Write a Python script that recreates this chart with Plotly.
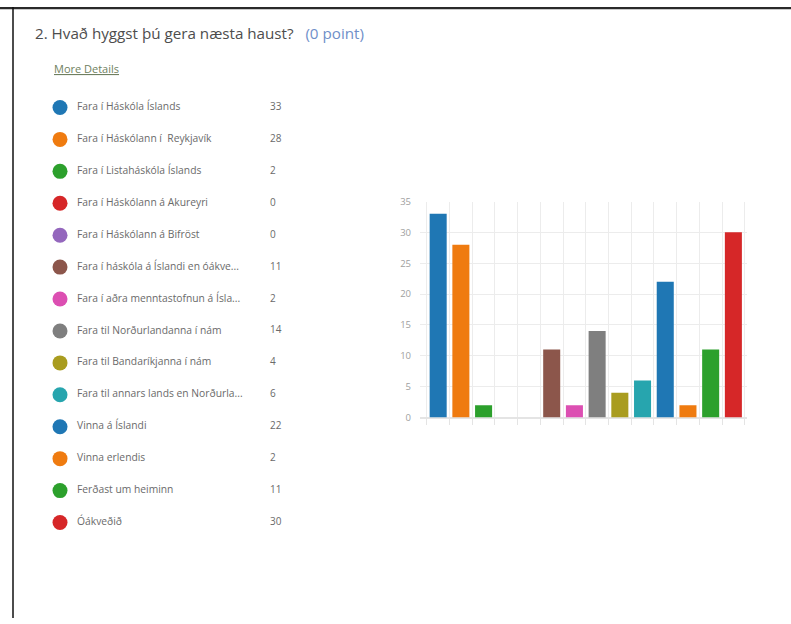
import plotly.graph_objects as go

W, H = 791, 624

categories = [
    "Fara í Háskóla Íslands",
    "Fara í Háskólann í  Reykjavík",
    "Fara í Listaháskóla Íslands",
    "Fara í Háskólann á Akureyri",
    "Fara í Háskólann á Bifröst",
    "Fara í háskóla á Íslandi en óákve...",
    "Fara í aðra menntastofnun á Ísla...",
    "Fara til Norðurlandanna í nám",
    "Fara til Bandaríkjanna í nám",
    "Fara til annars lands en Norðurla...",
    "Vinna á Íslandi",
    "Vinna erlendis",
    "Ferðast um heiminn",
    "Óákveðið",
]
counts = [33, 28, 2, 0, 0, 11, 2, 14, 4, 6, 22, 2, 11, 30]
y_ticks = [0, 5, 10, 15, 20, 25, 30, 35]

palette = ["#1f77b4", "#ef7b10", "#2ca02c", "#d62728", "#9467bd", "#8c564b",
           "#dc4fb2", "#7f7f7f", "#a99c1f", "#27a5ae", "#1f77b4", "#ef7b10",
           "#2ca02c", "#d62728"]

FONT = "Open Sans"

# screen-space placement helpers (the page is photographed slightly squeezed
# vertically, so target screen rows are mapped back to figure rows)
VS, VOFF = 611 / 624, 6.5


def px(x):
    return x / W


def py(y):
    return 1 - ((y - VOFF) / VS) / H


fig = go.Figure()

# Bar chart
fig.add_trace(go.Bar(
    x=categories, y=counts, marker=dict(color=palette, line=dict(width=0)),
    xaxis="x", yaxis="y", showlegend=False, hoverinfo="x+y",
))

# Legend list (markers, labels, counts)
LEFT_W = 360
fig.add_trace(go.Scatter(
    x=[60] * len(categories), y=categories, mode="markers",
    marker=dict(size=15, color=palette), xaxis="x2", yaxis="y2",
    showlegend=False, hoverinfo="skip", cliponaxis=False,
))
fig.add_trace(go.Scatter(
    x=[77] * len(categories), y=categories, mode="text", text=categories,
    textposition="middle right",
    textfont=dict(family=FONT, size=10.3, color="#6a6a6a"),
    xaxis="x2", yaxis="y2", showlegend=False, hoverinfo="skip",
    cliponaxis=False,
))
fig.add_trace(go.Scatter(
    x=[270] * len(categories), y=categories, mode="text",
    text=[str(c) for c in counts], textposition="middle right",
    textfont=dict(family=FONT, size=10, color="#6a6a6a"),
    xaxis="x2", yaxis="y2", showlegend=False, hoverinfo="skip",
    cliponaxis=False,
))

row_top, row_bot = 107, 522
half = (row_bot - row_top) / (len(categories) - 1) / 2

fig.update_layout(
    width=W, height=H,
    margin=dict(l=0, r=0, t=0, b=0),
    paper_bgcolor="white", plot_bgcolor="rgba(0,0,0,0)",
    bargap=0.25,
    font=dict(family=FONT, color="#666"),
    xaxis=dict(
        domain=[px(420), px(747)], range=[-0.8, 13.6],
        type="category", tickson="boundaries",
        showgrid=True, gridcolor="#ececec", gridwidth=1,
        ticks="outside", ticklen=6, tickcolor="#e4e4e4",
        showticklabels=False, showline=False, zeroline=False,
        fixedrange=True, anchor="y",
    ),
    yaxis=dict(
        domain=[py(417), py(201)], range=[0, 35],
        tickvals=y_ticks, showgrid=True, gridcolor="#ececec",
        zeroline=True, zerolinecolor="#e4e4e4",
        tickfont=dict(family=FONT, size=9.5, color="#a0a0a0"),
        ticklabelstandoff=8, showline=False, fixedrange=True, anchor="x",
    ),
    xaxis2=dict(
        domain=[0, px(LEFT_W)], range=[0, LEFT_W], visible=False,
        fixedrange=True, anchor="y2",
    ),
    yaxis2=dict(
        domain=[py(row_bot + half), py(row_top - half)],
        type="category", range=[len(categories) - 0.5, -0.5],
        visible=False, fixedrange=True, anchor="x2",
    ),
    shapes=[
        dict(type="line", xref="paper", yref="paper",
             x0=0, x1=1, y0=1 - 1.2 / H, y1=1 - 1.2 / H,
             line=dict(color="#2a2a2a", width=2.2)),
        dict(type="line", xref="paper", yref="paper",
             x0=px(13), x1=px(13), y0=0, y1=1,
             line=dict(color="#111", width=1.5)),
    ],
    annotations=[
        dict(xref="paper", yref="paper", x=px(33), y=py(33),
             xanchor="left", yanchor="middle", showarrow=False,
             text="2. Hvað hyggst þú gera næsta haust?&nbsp;&nbsp;&nbsp;"
                  "<span style='color:#6f8fc9'>(0 point)</span>",
             font=dict(family=FONT, size=15.2, color="#4d4d4d")),
        dict(xref="paper", yref="paper", x=px(52), y=py(68),
             xanchor="left", yanchor="middle", showarrow=False,
             text="<u>More Details</u>",
             font=dict(family=FONT, size=11, color="#6f7f60")),
    ],
)

fig.write_html(
    "out.html",
    config={"displayModeBar": False, "staticPlot": True},
    post_script=(
        "document.documentElement.style.margin='0';"
        "document.documentElement.style.overflow='hidden';"
        "document.body.style.margin='0';"
        "document.body.style.padding='0';"
        "document.body.style.overflow='hidden';"
        "var d=document.getElementById('{plot_id}');"
        "d.style.position='fixed';d.style.top='0px';d.style.left='0px';"
    ),
)
